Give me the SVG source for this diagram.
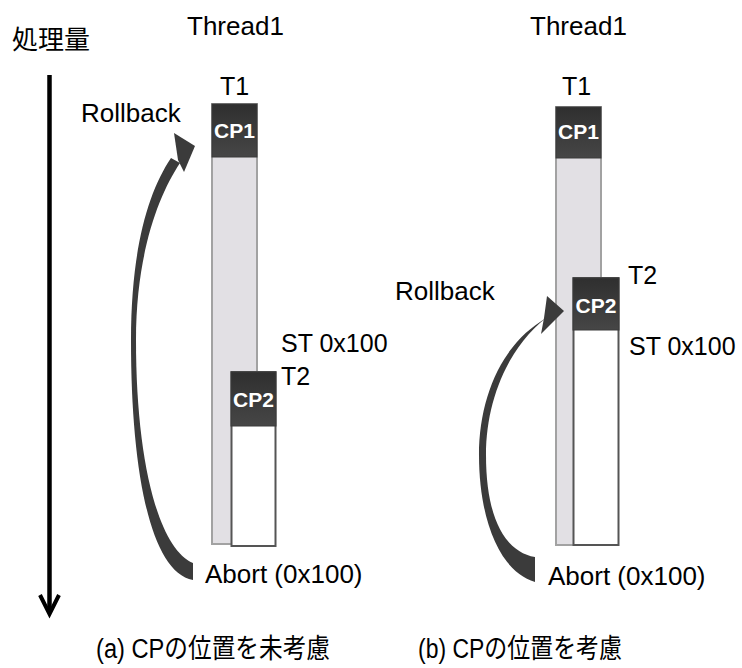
<svg xmlns="http://www.w3.org/2000/svg" width="742" height="668" viewBox="0 0 742 668">
  <defs>
    <linearGradient id="cpFill" x1="0" y1="0" x2="0" y2="1">
      <stop offset="0" stop-color="#2f2f2f"/>
      <stop offset="1" stop-color="#464646"/>
    </linearGradient>
    <filter id="soft" x="-20%" y="-20%" width="140%" height="140%">
      <feGaussianBlur stdDeviation="0.6"/>
    </filter>
  </defs>
  <style>
    .lbl { font-family: "Liberation Sans", Arial, "Noto Sans CJK JP", sans-serif; font-size: 26px; fill: #000; }
    .jp { font-family: "Liberation Sans", Arial, "Noto Sans CJK JP", sans-serif; font-size: 27px; fill: #000; }
    .cp { font-family: "Liberation Sans", Arial, sans-serif; font-size: 21px; font-weight: bold; fill: #fff; text-anchor: middle; }
    .bar { fill: #e2e0e4; stroke: #a2a2a2; stroke-width: 2; }
    .cpbox { fill: url(#cpFill); stroke: #3a3a3a; stroke-width: 1; }
    .run { fill: #fff; stroke: #555; stroke-width: 2; }
    .rb { fill: #3b3b3b; }
  </style>

  <rect width="742" height="668" fill="#fff"/>

  <!-- vertical throughput axis -->
  <g id="axis">
    <text class="lbl" x="12" y="49">処理量</text>
    <line x1="49.5" y1="75" x2="49.5" y2="612" stroke="#000" stroke-width="4.5"/>
    <polyline points="40,595 49.5,614 59,595" fill="none" stroke="#000" stroke-width="4" stroke-linejoin="miter"/>
  </g>

  <!-- (a) checkpoint position not considered -->
  <g id="threadA">
    <text class="lbl" x="187" y="35">Thread1</text>
    <text class="lbl" x="220" y="95" style="font-size:25px">T1</text>
    <rect class="bar" x="212" y="104" width="45" height="440"/>
  </g>
  <g id="cp1A">
    <rect class="cpbox" x="212" y="104" width="45" height="53"/>
    <text class="cp" x="234.5" y="138">CP1</text>
  </g>
  <g id="t2A">
    <text class="lbl" x="281" y="352" style="font-size:25px">ST 0x100</text>
    <text class="lbl" x="281" y="385" style="font-size:25px">T2</text>
    <rect class="run" x="231.5" y="372" width="44" height="174"/>
    <rect class="cpbox" x="231" y="372" width="45" height="54"/>
    <text class="cp" x="253.5" y="407">CP2</text>
  </g>
  <g id="labelsA">
    <text class="lbl" x="81" y="122">Rollback</text>
    <text class="lbl" x="205" y="583">Abort (0x100)</text>
    <text class="jp" x="96" y="658" textLength="234" lengthAdjust="spacingAndGlyphs">(a) CPの位置を未考慮</text>
  </g>

  <!-- (b) checkpoint position considered -->
  <g id="threadB">
    <text class="lbl" x="530" y="35">Thread1</text>
    <text class="lbl" x="562" y="95" style="font-size:25px">T1</text>
    <rect class="bar" x="556" y="107" width="45" height="438"/>
  </g>
  <g id="cp1B">
    <rect class="cpbox" x="556" y="107" width="45" height="51"/>
    <text class="cp" x="578.5" y="139">CP1</text>
  </g>
  <g id="t2B">
    <text class="lbl" x="628" y="284" style="font-size:25px">T2</text>
    <text class="lbl" x="629" y="355" style="font-size:25px">ST 0x100</text>
    <rect class="run" x="573.5" y="278" width="45" height="267"/>
    <rect class="cpbox" x="573" y="278" width="46" height="52"/>
    <text class="cp" x="596" y="313">CP2</text>
  </g>
  <g id="labelsB">
    <text class="lbl" x="395" y="300">Rollback</text>
    <text class="lbl" x="548" y="585">Abort (0x100)</text>
    <text class="jp" x="418" y="658" textLength="204" lengthAdjust="spacingAndGlyphs">(b) CPの位置を考慮</text>
  </g>

  <!-- rollback connectors: tapered curved arrows from abort point back to checkpoint -->
  <g id="connectors" filter="url(#soft)">
    <path class="rb" d="M193,580 C150,572 131,470 131,340 C131,250 148,192 171,158 L180,163 C158,196 136,255 136,340 C136,460 158,548 193,563 Z"/>
    <polygon class="rb" points="174,133 195,146 184,172 178,160"/>
    <path class="rb" d="M535,582 C500,572 479,520 479,455 C479,400 500,348 540,322 L546,318 C508,348 486,400 486,455 C486,520 506,552 535,557 Z"/>
    <polygon class="rb" points="547,296 564,311 541,334 544,318"/>
  </g>
</svg>
